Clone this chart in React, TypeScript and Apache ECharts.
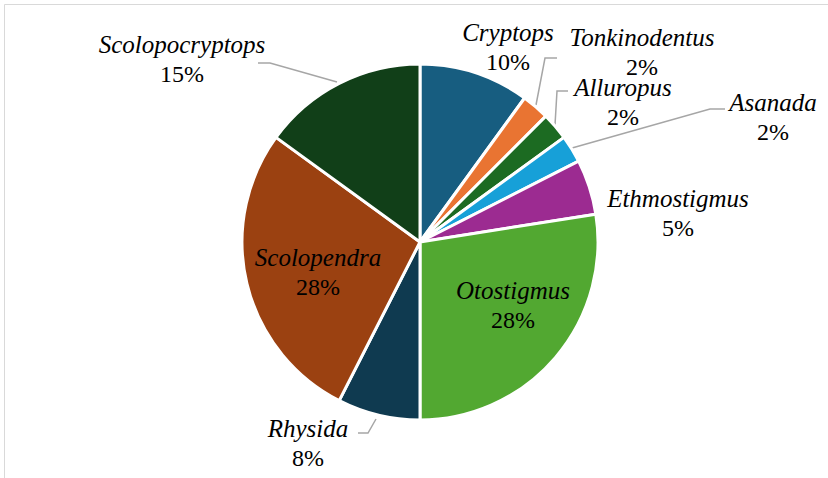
import React, { useEffect, useRef } from "react";
import * as echarts from "echarts";

const categories = [
  "Cryptops",
  "Tonkinodentus",
  "Alluropus",
  "Asanada",
  "Ethmostigmus",
  "Otostigmus",
  "Rhysida",
  "Scolopendra",
  "Scolopocryptops",
];
const counts = [4, 1, 1, 1, 2, 11, 3, 11, 6];
const pctLabels = ["10%", "2%", "2%", "2%", "5%", "28%", "8%", "28%", "15%"];

const palette = [
  "#175d80",
  "#e97432",
  "#1c6b22",
  "#17a0d8",
  "#9c2b91",
  "#52a831",
  "#0f3a50",
  "#9b4111",
  "#113f18",
];

// label placement (block centers) and leader lines
const labelPos: [number, number][] = [
  [508, 47],
  [642, 52],
  [623, 102],
  [773, 117],
  [678, 213],
  [513, 305],
  [308, 443],
  [318, 272],
  [182, 59],
];
const leaderLines: (number[][] | null)[] = [
  null,
  [[536, 105], [545, 58], [557, 58]],
  [[555, 125], [557, 91], [568, 91]],
  [[572, 148], [710, 109], [725, 109]],
  null,
  null,
  [[376, 419], [368, 433], [358, 433]],
  null,
  [[337, 82], [270, 63], [258, 63]],
];

export default function App() {
  const ref = useRef<HTMLDivElement>(null);
  useEffect(() => {
    document.body.style.margin = "0";
    const chart = echarts.init(ref.current!, undefined, { renderer: "svg" });
    const font = "Liberation Serif";
    chart.setOption({
      animation: false,
      backgroundColor: "#ffffff",
      textStyle: { fontFamily: font },
      graphic: [
        {
          type: "rect",
          shape: { x: 4.5, y: 4.5, width: 1000, height: 1000 },
          style: { fill: "none", stroke: "#d9d9d9", lineWidth: 1 },
          silent: true,
        },
      ],
      series: [
        {
          type: "pie",
          center: [420, 242],
          radius: 178,
          startAngle: 90,
          clockwise: true,
          avoidLabelOverlap: false,
          itemStyle: { borderColor: "#ffffff", borderWidth: 3 },
          label: {
            show: true,
            position: "outside",
            fontFamily: font,
            color: "#000000",
            formatter: (p: any) => `{n|${p.name}}\n{p|${pctLabels[p.dataIndex]}}`,
            rich: {
              n: { fontFamily: font, fontStyle: "italic", fontSize: 25, lineHeight: 30, color: "#000" },
              p: { fontFamily: font, fontSize: 24, lineHeight: 30, color: "#000" },
            },
          },
          labelLine: {
            show: true,
            lineStyle: { color: "#a6a6a6", width: 1.5 },
          },
          labelLayout: (params: any) => {
            const i = params.dataIndex;
            const out: any = {
              x: labelPos[i][0],
              y: labelPos[i][1],
              align: "center",
              verticalAlign: "middle",
            };
            if (leaderLines[i]) out.labelLinePoints = leaderLines[i];
            return out;
          },
          data: categories.map((c, i) => ({
            name: c,
            value: counts[i],
            itemStyle: { color: palette[i] },
            labelLine: { show: leaderLines[i] !== null },
          })),
        },
      ],
    });
    return () => chart.dispose();
  }, []);
  return <div ref={ref} style={{ width: 828, height: 478 }} />;
}
